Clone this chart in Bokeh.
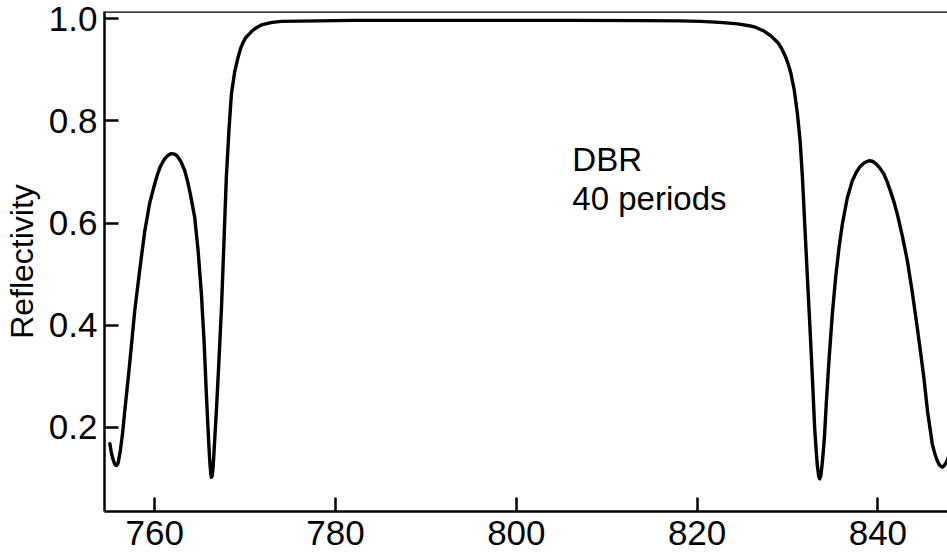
from bokeh.plotting import figure
from bokeh.models import Range1d, Span, Label, FixedTicker, PrintfTickFormatter
from bokeh.embed import file_html
from bokeh.resources import INLINE

# Wavelength (nm) and reflectivity
wavelength = [
    755.03, 755.2, 755.4, 755.6, 755.77, 755.95, 756.2, 756.45, 756.69, 757.2,
    757.79, 758.35, 758.90, 759.45, 760.0, 760.3, 760.6, 760.9, 761.2, 761.5,
    761.85, 762.2, 762.5, 762.9, 763.31, 763.6, 763.9, 764.42, 764.8, 765.16,
    765.45, 765.71, 765.9, 766.0, 766.1, 766.2, 766.27, 766.35, 766.45, 766.55,
    766.82, 767.1, 767.37, 767.65, 767.92, 768.2, 768.48, 768.85, 769.22, 769.5,
    769.8, 770.1, 770.5, 770.8, 771.2, 771.8, 772.5, 773.0, 774.0, 778.0,
    782.0, 790.0, 798.0, 806.0, 814.0, 818.0, 820.4, 822.5, 824.5, 825.9,
    826.5, 827.0, 827.4, 827.8, 828.2, 828.6, 829.0, 829.4, 829.8, 830.1,
    830.35, 830.75, 831.09, 831.4, 831.65, 831.9, 832.2, 832.5, 832.75, 833.0,
    833.15, 833.3, 833.45, 833.56, 833.68, 833.8, 833.95, 834.1, 834.3, 834.59,
    834.95, 835.33, 835.7, 836.07, 836.6, 837.17, 837.6, 838.0, 838.5, 839.01,
    839.4, 839.8, 840.2, 840.66, 841.0, 841.4, 841.8, 842.14, 842.7, 843.25,
    843.8, 844.35, 844.7, 845.08, 845.5, 846.01, 846.3, 846.6, 846.85, 847.12,
    847.35, 847.6, 847.9,
]
reflectivity = [
    0.168, 0.150, 0.136, 0.127, 0.125, 0.130, 0.155, 0.190, 0.233, 0.320,
    0.429, 0.510, 0.585, 0.640, 0.677, 0.695, 0.710, 0.720, 0.728, 0.733,
    0.736, 0.735, 0.731, 0.720, 0.703, 0.684, 0.660, 0.611, 0.545, 0.461,
    0.370, 0.265, 0.195, 0.160, 0.130, 0.108, 0.102, 0.105, 0.120, 0.150,
    0.233, 0.330, 0.429, 0.560, 0.690, 0.780, 0.853, 0.897, 0.925, 0.942,
    0.955, 0.964, 0.971, 0.977, 0.982, 0.988, 0.991, 0.993, 0.995, 0.996,
    0.997, 0.997, 0.997, 0.997, 0.9965, 0.996, 0.995, 0.993, 0.990, 0.986,
    0.983, 0.979, 0.976, 0.971, 0.966, 0.959, 0.952, 0.940, 0.925, 0.910,
    0.895, 0.860, 0.815, 0.760, 0.690, 0.600, 0.494, 0.390, 0.298, 0.200,
    0.160, 0.125, 0.104, 0.099, 0.105, 0.122, 0.150, 0.185, 0.250, 0.331,
    0.420, 0.494, 0.552, 0.598, 0.648, 0.683, 0.699, 0.710, 0.718, 0.722,
    0.721, 0.716, 0.708, 0.696, 0.682, 0.662, 0.640, 0.618, 0.575, 0.527,
    0.465, 0.396, 0.350, 0.298, 0.230, 0.168, 0.148, 0.133, 0.125, 0.122,
    0.125, 0.133, 0.145,
]
x_ticks = [760, 780, 800, 820, 840]
y_ticks = [0.2, 0.4, 0.6, 0.8, 1.0]

FONT = "Liberation Sans"
TICK_FS = "35px"
LABEL_FS = "32px"
TEXT_FS = "33px"

p = figure(width=947, height=558, output_backend="svg", toolbar_location=None,
           x_range=Range1d(754.44, 847.7), y_range=Range1d(0.035, 1.0143),
           min_border_left=103, min_border_right=0, min_border_top=11,
           min_border_bottom=47)
p.grid.visible = False
p.outline_line_color = None
p.background_fill_color = "white"
p.border_fill_color = "white"

p.line(wavelength, reflectivity, line_color="black", line_width=3.4,
       line_join="round", line_cap="round")

for ax in (p.xaxis[0], p.yaxis[0]):
    ax.axis_line_width = 2.5
    ax.axis_line_color = "black"
    ax.major_tick_in = 14
    ax.major_tick_out = 0
    ax.major_tick_line_width = 2.5
    ax.major_tick_line_color = "black"
    ax.minor_tick_line_color = None
    ax.major_label_text_font = FONT
    ax.major_label_text_font_size = TICK_FS
    ax.major_label_text_color = "black"
p.xaxis[0].major_label_standoff = 9
p.yaxis[0].major_label_standoff = 7

p.xaxis[0].ticker = FixedTicker(ticks=x_ticks)
p.yaxis[0].ticker = FixedTicker(ticks=y_ticks)
p.yaxis[0].formatter = PrintfTickFormatter(format="%.1f")
p.yaxis[0].axis_label = "Reflectivity"
p.yaxis[0].axis_label_text_font = FONT
p.yaxis[0].axis_label_text_font_size = LABEL_FS
p.yaxis[0].axis_label_text_font_style = "normal"
p.yaxis[0].axis_label_text_color = "black"
p.yaxis[0].axis_label_standoff = 6

p.add_layout(Span(location=1.0143, dimension="width", line_color="black",
                  line_width=2.5))

p.add_layout(Label(x=806.2, y=0.7238, text="DBR", text_font=FONT,
                   text_font_size=TEXT_FS, text_color="black",
                   text_baseline="alphabetic"))
p.add_layout(Label(x=806.2, y=0.648, text="40 periods", text_font=FONT,
                   text_font_size=TEXT_FS, text_color="black",
                   text_baseline="alphabetic"))

open("out.html", "w").write(file_html(p, INLINE))
